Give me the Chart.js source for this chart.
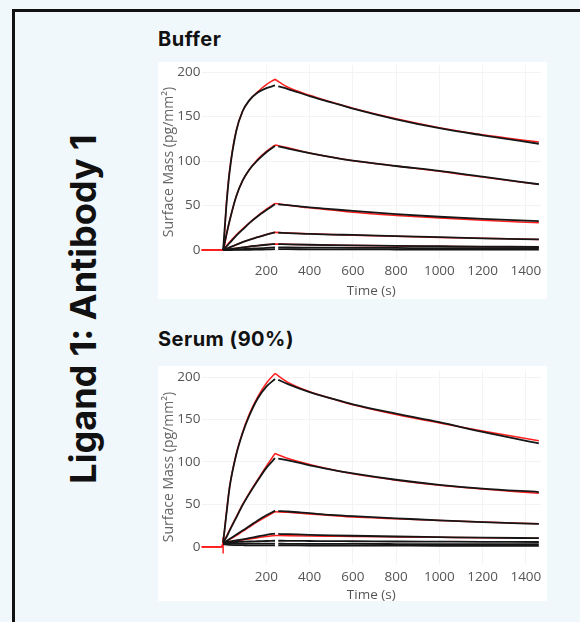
<!DOCTYPE html>
<html>
<head>
<meta charset="utf-8">
<script src="https://cdn.jsdelivr.net/npm/chart.js@4.4.1/dist/chart.umd.min.js"></script>
<style>
html, body { margin: 0; padding: 0; width: 580px; height: 622px; overflow: hidden; background: #f1f8fc; }
#frame { position: absolute; left: 12px; top: 9px; width: 640px; height: 680px; border: 3px solid #111; box-sizing: border-box; }
#side { position: absolute; left: -121.5px; top: 291px; width: 400px; height: 36px; line-height: 36px; text-align: center;
        font: 700 36px Inter, sans-serif; color: #111; transform: rotate(-90deg); white-space: nowrap; }
.ptitle { position: absolute; left: 158px; font: 700 20px Inter, sans-serif; line-height: 20px; letter-spacing: 0.5px; color: #111; white-space: nowrap; }
.box { position: absolute; left: 158px; width: 389px; background: #fff; }
canvas { position: absolute; left: 158px; }
</style>
</head>
<body>
<div id="frame"></div>
<div id="side">Ligand 1: Antibody 1</div>

<div class="ptitle" style="top:28.7px">Buffer</div>
<div class="box" style="top:62px;height:237px"></div>
<canvas id="buffer" width="389" height="237" style="top:62px"></canvas>

<div class="ptitle" style="top:329.4px">Serum (90%)</div>
<div class="box" style="top:366px;height:235px"></div>
<canvas id="serum" width="389" height="239" style="top:366px"></canvas>

<script>
// axis ticks
const xTicks = [200, 400, 600, 800, 1000, 1200, 1400];
const yTicks = [0, 50, 100, 150, 200];
const injectEnd = 240;

// time points (s) for fitted curves and for measured sensorgrams
const fitTime  = [-100, -5, 0, 15, 30, 60, 90, 120, 160, 200, 240, 300, 400, 500, 600, 800, 1000, 1200, 1460];
const dataTime = [0, 15, 30, 60, 90, 120, 160, 200, 240, 255, 300, 400, 500, 600, 800, 1000, 1200, 1460];

// Buffer - measured (black)
const bufDataA = [0, 50, 88, 133, 156, 168, 177, 182, 185, 184, 181, 173, 166, 159, 147, 137, 129, 119.5];
const bufDataB = [0, 17, 33, 60, 78, 90, 101, 110, 117, 116.5, 114, 109, 104.5, 100.5, 94.5, 89, 82.5, 74];
const bufDataC = [0, 4, 8, 16, 23, 30, 38, 45, 51.5, 51.5, 50.5, 48, 46, 44, 40.5, 37.5, 35, 32.5];
const bufDataD = [0, 1.5, 3, 6, 9, 11.5, 14.5, 17.5, 20, 19.5, 19, 18.2, 17.5, 17, 15.7, 14.5, 13.2, 12];
const bufDataE = [0, 0.5, 1, 2, 3, 4, 5, 6, 7, 6.8, 6.5, 6, 5.6, 5.3, 4.8, 4.4, 4, 3.5];
const bufDataF = [0, 0.2, 0.4, 0.8, 1.2, 1.6, 2, 2.5, 3, 3, 2.9, 2.8, 2.7, 2.6, 2.4, 2.2, 2.1, 2];
const bufDataG = [0, 0.1, 0.1, 0.2, 0.3, 0.4, 0.6, 0.8, 1, 1, 1, 0.9, 0.9, 0.8, 0.7, 0.6, 0.6, 0.5];
// Buffer - fits (red)
const bufFitA = [0, 0, 0, 52, 90, 134, 156, 168, 178, 186, 192, 183, 174, 166.5, 159.5, 147.5, 137.5, 129.5, 121.5];
const bufFitB = [0, 0, 0, 17, 33, 60, 78, 90, 102, 111, 118, 115, 109, 104.5, 100.5, 94.5, 88.5, 82, 74];
const bufFitC = [0, 0, 0, 4.5, 9, 17, 24, 30.5, 38.5, 46, 52.5, 50.5, 47.5, 45, 42.5, 39, 36, 33.5, 30.7];
const bufFitD = [0, 0, 0, 1.5, 3, 6, 9, 11.5, 14.5, 17.5, 20, 19.3, 18.3, 17.5, 16.8, 15.5, 14.3, 13.2, 12];
const bufFitE = [0, 0, 0, 0.5, 1, 2, 3, 4, 5, 6, 6.8, 6.5, 6, 5.6, 5.2, 4.7, 4.3, 3.9, 3.5];

// Serum - measured (black)
const serDataA = [5, 38, 70, 108, 134, 154, 175, 189, 198, 197, 192, 182.5, 175, 168, 157, 147, 135.5, 122];
const serDataB = [5, 11, 19, 34, 49, 62, 78, 93, 104.5, 104, 102, 96, 91, 86.5, 79, 73, 68.5, 64.5];
const serDataC = [5, 6.5, 9, 14, 19, 24, 31, 37, 42.5, 42, 41.5, 39.5, 37.5, 36, 33.5, 31, 29, 26.8];
const serDataD = [5, 5.5, 6, 7.5, 8.5, 10, 12, 14, 15.5, 15, 14.7, 14, 13.4, 12.9, 12, 11.3, 10.6, 10];
const serDataE = [5, 5, 5.2, 5.5, 5.8, 6.1, 6.4, 6.7, 7, 7, 6.9, 6.7, 6.5, 6.4, 6.1, 5.9, 5.7, 5.5];
const serDataF = [4, 3.9, 3.8, 3.7, 3.7, 3.6, 3.6, 3.5, 3.5, 3.5, 3.4, 3.3, 3.3, 3.2, 3.1, 3, 3, 3];
const serDataG = [3, 2.5, 2, 1.8, 1.7, 1.6, 1.5, 1.5, 1.5, 1.5, 1.5, 1.4, 1.4, 1.3, 1.2, 1.1, 1.1, 1];
// Serum - fits (red)
const serFitA = [0, 0, 5, 40, 71, 109, 135, 156, 177, 193, 204.5, 194, 183, 175, 167.5, 156, 146, 136.5, 125];
const serFitB = [0, 0, 5, 12, 20, 35, 50, 63, 79, 95, 110, 104, 97, 91, 86, 78.5, 72.5, 68, 63];
const serFitC = [0, 0, 5, 6.5, 8.5, 13, 18, 23, 29.5, 35.5, 41.3, 40.5, 38.5, 36.7, 35, 33, 31, 29, 27];
const serFitD = [0, 0, 5, 5.5, 6, 7, 8, 9, 10.5, 12, 13.3, 13, 12.6, 12.3, 12, 11.5, 11, 10.5, 9.9];
const serTickTime = [0, 0];
const serTickVal = [11, -8];

const BLACK = '#161616';
const RED = '#ff1f1f';

// association / dissociation are drawn as separate pieces (sharp corner, data gap)
function toPoints(times, values, isFit) {
    let pts = [];
    times.forEach((t, i) => {
        pts.push({ x: t, y: values[i] });
        if (t === injectEnd) {
            pts.push({ x: t, y: null });
            if (isFit) pts.push({ x: t, y: values[i] });
        }
    });
    return pts;
}

function line(points, color, width, order) {
    return {
        data: points,
        borderColor: color,
        borderWidth: width,
        pointRadius: 0,
        cubicInterpolationMode: 'monotone',
        spanGaps: false,
        fill: false,
        order: order
    };
}

function makeChart(id, datas, fits, extra, cfg) {
    let datasets = [];
    for (const d of datas) datasets.push(line(toPoints(dataTime, d, false), BLACK, 1.8, 0));
    for (const f of fits) datasets.push(line(toPoints(fitTime, f, true), RED, 1.5, 1));
    for (const e of extra) datasets.push(line(e, RED, 1.5, 1));

    const tickFont = { family: 'Open Sans', size: 13.5 };
    return new Chart(document.getElementById(id), {
        type: 'line',
        data: { datasets: datasets },
        options: {
            responsive: false,
            animation: false,
            layout: { padding: { top: cfg.top, right: 6, left: 0, bottom: 0 } },
            plugins: { legend: { display: false }, tooltip: { enabled: false } },
            scales: {
                x: {
                    type: 'linear',
                    min: -100,
                    max: 1470,
                    afterBuildTicks: (s) => { s.ticks = xTicks.map(v => ({ value: v })); },
                    afterFit: (s) => { s.height = cfg.xHeight; s.paddingLeft = 0; s.paddingRight = 0; },
                    grid: { color: '#f3f3f3', drawTicks: false },
                    border: { display: false },
                    ticks: { font: tickFont, color: '#555', padding: cfg.xPad, maxRotation: 0, callback: (v) => String(v) },
                    title: { display: true, text: 'Time (s)', font: { family: 'Open Sans', size: 13.5 }, color: '#555', padding: { top: 0, bottom: cfg.titlePad } }
                },
                y: {
                    type: 'linear',
                    min: cfg.yMin,
                    max: 208,
                    afterBuildTicks: (s) => { s.ticks = yTicks.map(v => ({ value: v })); },
                    afterFit: (s) => { s.width = 43.5; s.paddingTop = 0; s.paddingBottom = 0; },
                    grid: { color: '#f3f3f3', drawTicks: false },
                    border: { display: false },
                    ticks: { font: tickFont, color: '#555', padding: 1, callback: (v) => String(v) },
                    title: { display: true, text: 'Surface Mass (pg/mm²)', font: { family: 'Open Sans', size: 14 }, color: '#666', padding: { top: 2.6, bottom: 0 } }
                }
            }
        }
    });
}

makeChart('buffer',
    [bufDataA, bufDataB, bufDataC, bufDataD, bufDataE, bufDataF, bufDataG],
    [bufFitA, bufFitB, bufFitC, bufFitD, bufFitE],
    [],
    { top: 3, yMin: -10, xHeight: 40, xPad: 3.6, titlePad: 0 });

makeChart('serum',
    [serDataA, serDataB, serDataC, serDataD, serDataE, serDataF, serDataG],
    [serFitA, serFitB, serFitC, serFitD],
    [serTickTime.map((t, i) => ({ x: t, y: serTickVal[i] }))],
    { top: 4.5, yMin: -20, xHeight: 41.4, xPad: 5, titlePad: 1.9 });
</script>
</body>
</html>
